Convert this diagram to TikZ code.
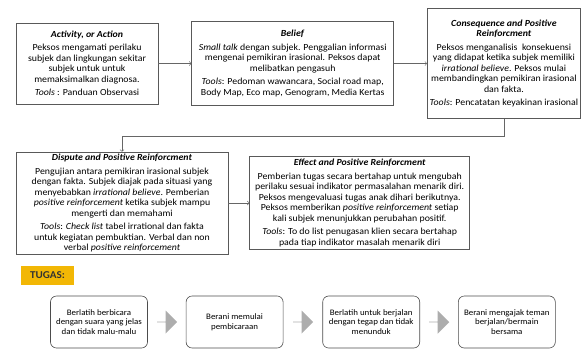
\documentclass[tikz,border=0pt]{standalone}
\usepackage{fontspec}
\setmainfont{Carlito}[FakeStretch=1.06]
\usetikzlibrary{positioning,shapes.arrows}
\definecolor{tugasyellow}{HTML}{F2B705}
\newcommand{\boxtitle}[1]{\textbf{\textit{#1}}}

\begin{document}
\begin{tikzpicture}[x=1pt,y=1pt,
  abcbox/.style={draw=black!65,line width=0.7pt,align=center,inner sep=2pt,
    font=\fontsize{9.3}{10.5}\selectfont},
  taskbox/.style={draw=black!70,line width=0.6pt,rounded corners=6pt,align=center,
    minimum width=97pt,minimum height=52pt,font=\fontsize{8.4}{9.6}\selectfont},
  fatarrow/.style={single arrow,fill=black!32,draw=none,minimum width=23pt,
    minimum height=20pt,single arrow head extend=4.5pt,inner sep=0pt},
  link/.style={->,draw=black!60,line width=0.6pt}]
\useasboundingbox (0,0) rectangle (581,-349);
%the boxes of the first row
\node [abcbox,minimum width=142pt,minimum height=81pt] (activity) at (87,-63.5)
  {\boxtitle{Activity, or Action}\\[3pt]
   Peksos mengamati perilaku\\subjek dan lingkungan sekitar\\subjek untuk untuk\\memaksimalkan diagnosa.\\[3pt]
   \textit{Tools} : Panduan Observasi};
\node [abcbox,minimum width=202pt,minimum height=84pt,right=33pt of activity] (belief)
  {\boxtitle{Belief}\\[3pt]
   \textit{Small talk} dengan subjek. Penggalian informasi\\mengenai pemikiran irasional. Peksos dapat\\melibatkan pengasuh\\[3pt]
   \textit{Tools}: Pedoman wawancara, Social road map,\\Body Map, Eco map, Genogram, Media Kertas};
\node [abcbox,minimum width=153pt,minimum height=110pt,right=33pt of belief] (conseq)
  {\boxtitle{Consequence and Positive}\\\boxtitle{Reinforcment}\\[3pt]
   Peksos menganalisis\ \ konsekuensi\\yang didapat ketika subjek memiliki\\\textit{irrational believe}. Peksos mulai\\membandingkan pemikiran irasional\\dan fakta.\\[3pt]
   \textit{Tools}: Pencatatan keyakinan irasional};
%the boxes of the second row
\node [abcbox,minimum width=212pt,minimum height=102pt] (dispute) at (122,-203)
  {\boxtitle{Dispute and Positive Reinforcment}\\[3pt]
   Pengujian antara pemikiran irasional subjek\\dengan fakta. Subjek diajak pada situasi yang\\menyebabkan \textit{irrational believe}. Pemberian\\\textit{positive reinforcement} ketika subjek mampu\\mengerti dan memahami\\[3pt]
   \textit{Tools}: \textit{Check list} tabel irrational dan fakta\\untuk kegiatan pembuktian. Verbal dan non\\verbal \textit{positive reinforcement}};
\node [abcbox,minimum width=220pt,minimum height=93pt,right=21pt of dispute] (effect)
  {\boxtitle{Effect and Positive Reinforcment}\\[3pt]
   Pemberian tugas secara bertahap untuk mengubah\\perilaku sesuai indikator permasalahan menarik diri.\\Peksos mengevaluasi tugas anak dihari berikutnya.\\Peksos memberikan \textit{positive reinforcement} setiap\\kali subjek menunjukkan perubahan positif.\\[3pt]
   \textit{Tools}: To do list penugasan klien secara bertahap\\pada tiap indikator masalah menarik diri};
%tasks
\node [fill=tugasyellow,minimum width=53pt,minimum height=19pt,inner sep=1pt,
  font=\fontsize{10.5}{11}\selectfont\bfseries,text=black!80] (tugas) at (47.5,-275.5) {TUGAS:};
\node [taskbox] (taskA) at (99,-322) {Berlatih berbicara\\dengan suara yang jelas\\dan tidak malu-malu};
\node [taskbox,right=38pt of taskA] (taskB) {Berani memulai\\pembicaraan};
\node [taskbox,right=39pt of taskB] (taskC) {Berlatih untuk berjalan\\dengan tegap dan tidak\\menunduk};
\node [taskbox,right=38pt of taskC] (taskD) {Berani mengajak teman\\berjalan/bermain\\bersama};
%drawings of lines
\draw [link] (activity.east) -- (belief.west);
\draw [link] (belief.east) -- (conseq.west);
\draw [link] (conseq.south) -- ++(0,-17) -| (dispute.north);
\draw [link] (dispute.east) -- (effect.west);
%grey arrows
\path (taskA) -- node [fatarrow] {} (taskB);
\path (taskB) -- node [fatarrow] {} (taskC);
\path (taskC) -- node [fatarrow] {} (taskD);
\end{tikzpicture}
\end{document}
